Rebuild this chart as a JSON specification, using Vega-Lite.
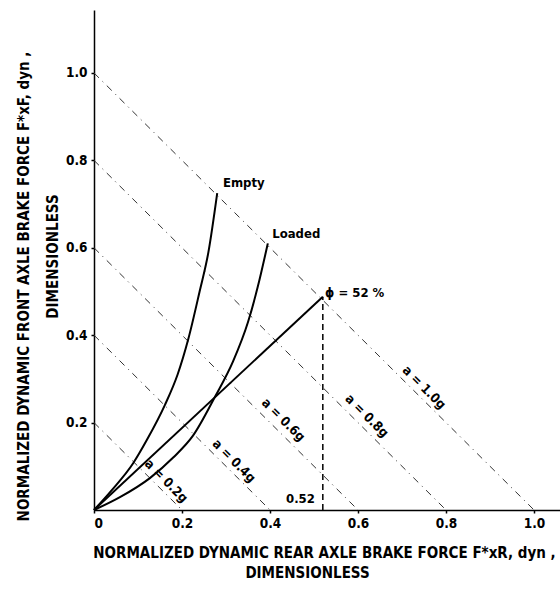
{
  "$schema": "https://vega.github.io/schema/vega-lite/v6.json",
  "width": 466,
  "height": 500,
  "autosize": {"type": "none"},
  "padding": {"left": 94, "top": 10, "right": 0, "bottom": 88},
  "background": "white",
  "config": {
    "view": {"stroke": null},
    "font": "DejaVu Sans Condensed",
    "axis": {
      "grid": false,
      "domainColor": "black",
      "domainWidth": 1.5,
      "tickColor": "black",
      "tickWidth": 1.5,
      "tickSize": 3,
      "labelFont": "DejaVu Sans Condensed",
      "labelFontWeight": "bold",
      "labelFontSize": 13.5,
      "labelColor": "black",
      "titleFont": "DejaVu Sans Condensed",
      "titleFontWeight": "bold",
      "titleColor": "black"
    },
    "text": {"font": "DejaVu Sans Condensed", "fontWeight": "bold", "color": "black"}
  },
  "datasets": {
    "diag": [
      {"a": "0.2", "x": 0, "y": 0.2}, {"a": "0.2", "x": 0.2, "y": 0},
      {"a": "0.4", "x": 0, "y": 0.4}, {"a": "0.4", "x": 0.4, "y": 0},
      {"a": "0.6", "x": 0, "y": 0.6}, {"a": "0.6", "x": 0.6, "y": 0},
      {"a": "0.8", "x": 0, "y": 0.8}, {"a": "0.8", "x": 0.8, "y": 0},
      {"a": "1.0", "x": 0, "y": 1.0}, {"a": "1.0", "x": 1.0, "y": 0}
    ],
    "curves": [
      {"series": "Empty", "x": 0, "y": 0},
      {"series": "Empty", "x": 0.04, "y": 0.045},
      {"series": "Empty", "x": 0.089, "y": 0.107},
      {"series": "Empty", "x": 0.12, "y": 0.16},
      {"series": "Empty", "x": 0.161, "y": 0.24},
      {"series": "Empty", "x": 0.19, "y": 0.31},
      {"series": "Empty", "x": 0.214, "y": 0.39},
      {"series": "Empty", "x": 0.24, "y": 0.5},
      {"series": "Empty", "x": 0.26, "y": 0.59},
      {"series": "Empty", "x": 0.28, "y": 0.725},
      {"series": "Loaded", "x": 0, "y": 0},
      {"series": "Loaded", "x": 0.06, "y": 0.03},
      {"series": "Loaded", "x": 0.127, "y": 0.073},
      {"series": "Loaded", "x": 0.18, "y": 0.12},
      {"series": "Loaded", "x": 0.225, "y": 0.17},
      {"series": "Loaded", "x": 0.275, "y": 0.259},
      {"series": "Loaded", "x": 0.316, "y": 0.34},
      {"series": "Loaded", "x": 0.35, "y": 0.43},
      {"series": "Loaded", "x": 0.372, "y": 0.51},
      {"series": "Loaded", "x": 0.395, "y": 0.61},
      {"series": "phi", "x": 0, "y": 0},
      {"series": "phi", "x": 0.52, "y": 0.488}
    ],
    "vline": [{"x": 0.52, "y": 0, "y2": 0.488}],
    "labels": [
      {"x": 0.293, "y": 0.748, "label": "Empty"},
      {"x": 0.405, "y": 0.632, "label": "Loaded"},
      {"x": 0.525, "y": 0.497, "label": "ϕ = 52 %"}
    ],
    "rlabels": [
      {"x": 0.502, "y": 0.025, "label": "0.52"}
    ],
    "alabels": [
      {"x": 0.164, "y": 0.066, "label": "a = 0.2g"},
      {"x": 0.318, "y": 0.112, "label": "a = 0.4g"},
      {"x": 0.43, "y": 0.206, "label": "a = 0.6g"},
      {"x": 0.62, "y": 0.215, "label": "a = 0.8g"},
      {"x": 0.75, "y": 0.28, "label": "a = 1.0g"}
    ]
  },
  "resolve": {"axis": {"x": "independent", "y": "independent"}},
  "layer": [
    {
      "data": {"name": "diag"},
      "mark": {"type": "line", "color": "#333", "strokeWidth": 1, "strokeDash": [7, 5, 1, 5]},
      "encoding": {
        "x": {
          "field": "x", "type": "quantitative",
          "scale": {"domain": [0, 1.059], "nice": false, "zero": false},
          "axis": {
            "values": [0, 0.2, 0.4, 0.6, 0.8, 1.0],
            "labelExpr": "datum.value == 0 ? '0' : format(datum.value, '.1f')",
            "labelPadding": 3,
            "title": "NORMALIZED DYNAMIC REAR AXLE BRAKE FORCE  F*xR, dyn ,",
            "titleFontSize": 15,
            "titleX": 230,
            "titleY": 47,
            "titleAlign": "center",
            "titleBaseline": "alphabetic"
          }
        },
        "y": {
          "field": "y", "type": "quantitative",
          "scale": {"domain": [0, 1.144], "nice": false, "zero": false},
          "axis": {
            "values": [0.2, 0.4, 0.6, 0.8, 1.0],
            "format": ".1f",
            "labelPadding": 4,
            "title": "NORMALIZED DYNAMIC FRONT AXLE BRAKE FORCE  F*xF, dyn ,",
            "titleFontSize": 15,
            "titleAngle": 270,
            "titleX": -66,
            "titleY": 276,
            "titleAlign": "center",
            "titleBaseline": "alphabetic"
          }
        },
        "detail": {"field": "a"}
      }
    },
    {
      "data": {"name": "curves"},
      "mark": {"type": "line", "color": "black", "strokeWidth": 2, "interpolate": "monotone"},
      "encoding": {
        "x": {"field": "x", "type": "quantitative", "scale": {"domain": [0, 1.059], "nice": false, "zero": false}, "axis": null},
        "y": {"field": "y", "type": "quantitative", "scale": {"domain": [0, 1.144], "nice": false, "zero": false}, "axis": null},
        "detail": {"field": "series"}
      }
    },
    {
      "data": {"name": "vline"},
      "mark": {"type": "rule", "color": "black", "strokeWidth": 1.5, "strokeDash": [6, 4]},
      "encoding": {
        "x": {
          "field": "x", "type": "quantitative",
          "scale": {"domain": [0, 1.059], "nice": false, "zero": false},
          "axis": {
            "orient": "top", "labels": false, "ticks": false, "domain": false,
            "title": "DIMENSIONLESS",
            "titleFontSize": 15,
            "titleX": 213,
            "titleY": 567,
            "titleAlign": "center",
            "titleBaseline": "alphabetic"
          }
        },
        "y": {
          "field": "y", "type": "quantitative",
          "scale": {"domain": [0, 1.144], "nice": false, "zero": false},
          "axis": {
            "orient": "right", "labels": false, "ticks": false, "domain": false,
            "title": "DIMENSIONLESS",
            "titleFontSize": 15,
            "titleAngle": 270,
            "titleX": -503,
            "titleY": 246,
            "titleAlign": "center",
            "titleBaseline": "alphabetic"
          }
        },
        "y2": {"field": "y2"}
      }
    },
    {
      "data": {"name": "labels"},
      "mark": {"type": "text", "align": "left", "baseline": "middle", "fontSize": 13},
      "encoding": {
        "x": {"field": "x", "type": "quantitative", "axis": null},
        "y": {"field": "y", "type": "quantitative", "axis": null},
        "text": {"field": "label"}
      }
    },
    {
      "data": {"name": "rlabels"},
      "mark": {"type": "text", "align": "right", "baseline": "middle", "fontSize": 13},
      "encoding": {
        "x": {"field": "x", "type": "quantitative", "axis": null},
        "y": {"field": "y", "type": "quantitative", "axis": null},
        "text": {"field": "label"}
      }
    },
    {
      "data": {"name": "alabels"},
      "mark": {"type": "text", "align": "center", "baseline": "middle", "fontSize": 13, "angle": 45},
      "encoding": {
        "x": {"field": "x", "type": "quantitative", "axis": null},
        "y": {"field": "y", "type": "quantitative", "axis": null},
        "text": {"field": "label"}
      }
    }
  ]
}
